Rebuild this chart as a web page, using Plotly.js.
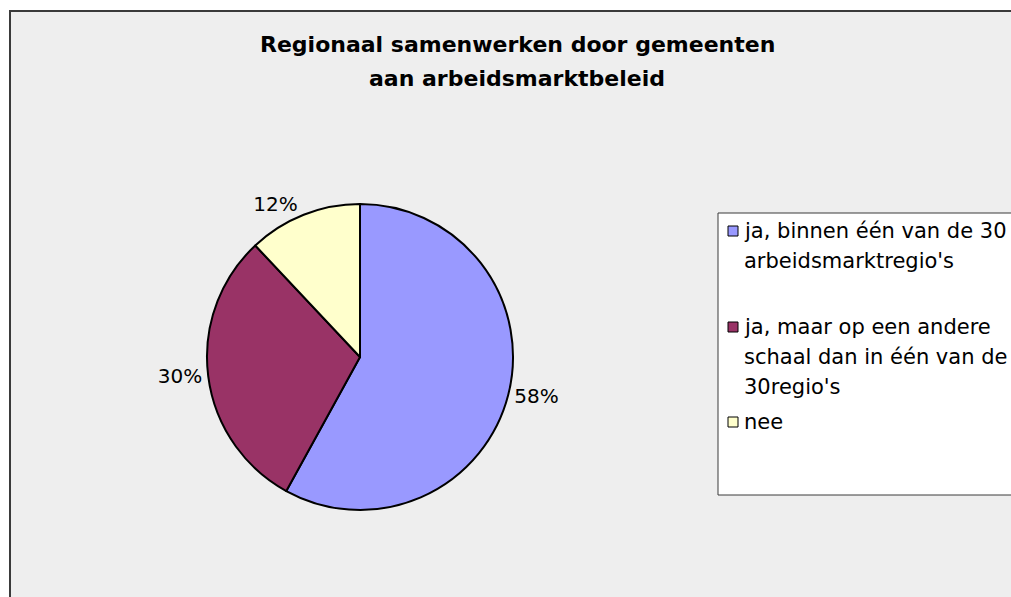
<!DOCTYPE html>
<html>
<head>
<meta charset="utf-8">
<script src="https://cdn.plot.ly/plotly-3.0.1.min.js"></script>
<style>html,body{margin:0;padding:0;background:#fff;}</style>
</head>
<body>
<div id="chart" style="width:1011px;height:597px;"></div>
<script>
// ---- data ----
const titleLines = ["Regionaal samenwerken door gemeenten", "aan arbeidsmarktbeleid"];
const labels = [
  "ja, binnen één van de 30 arbeidsmarktregio's",
  "ja, maar op een andere schaal dan in één van de 30regio's",
  "nee"
];
const legendLines = [
  ["ja, binnen één van de 30", "arbeidsmarktregio's"],
  ["ja, maar op een andere", "schaal dan in één van de", "30regio's"],
  ["nee"]
];
const values = [58, 30, 12];
const colors = ["#9999FF", "#993366", "#FFFFCC"];

// ---- layout helpers (pixel -> paper) ----
const W = 1011, H = 597;
const px = x => x / W;
const py = y => 1 - y / H;

const shapes = [
  // chart area background + border
  {type: "rect", xref: "paper", yref: "paper", x0: px(10), x1: 1.01, y0: -0.01, y1: py(11),
   fillcolor: "#EEEEEE", line: {color: "#3a3a3a", width: 2}, layer: "below"},
  // legend box
  {type: "rect", xref: "paper", yref: "paper", x0: px(718), x1: 1.01, y0: py(495), y1: py(213),
   fillcolor: "#FFFFFF", line: {color: "#3a3a3a", width: 1}, layer: "below"}
];

const annotations = [];
const titleY = [45, 79];
titleLines.forEach((t, i) => {
  annotations.push({text: t, xref: "paper", yref: "paper", x: px(517), y: py(titleY[i]),
    xanchor: "center", yanchor: "middle", showarrow: false,
    font: {family: "DejaVu Sans", size: 22, color: "#000", weight: "bold"}});
});

const entryStartY = [231, 327, 422];
const lineGap = 30;
legendLines.forEach((lines, i) => {
  const y0 = entryStartY[i];
  shapes.push({type: "rect", xref: "paper", yref: "paper",
    x0: px(728), x1: px(738), y0: py(y0 + 5), y1: py(y0 - 5),
    fillcolor: colors[i], line: {color: "#000", width: 1}});
  lines.forEach((ln, j) => {
    annotations.push({text: ln, xref: "paper", yref: "paper", x: px(742), y: py(y0 + j * lineGap),
      xanchor: "left", yanchor: "middle", showarrow: false,
      font: {family: "DejaVu Sans", size: 21, color: "#000"}});
  });
});

const trace = {
  type: "pie",
  labels: labels,
  values: values,
  sort: false,
  direction: "clockwise",
  rotation: 0,
  marker: {colors: colors, line: {color: "#000", width: 2}},
  textinfo: "percent",
  textposition: "outside",
  outsidetextfont: {family: "DejaVu Sans", size: 20, color: "#000"},
  domain: {x: [px(207), px(513)], y: [py(510), py(204)]},
  showlegend: false,
  hoverinfo: "label+percent"
};

const layout = {
  width: W, height: H,
  margin: {l: 0, r: 0, t: 0, b: 0},
  paper_bgcolor: "#FFFFFF",
  showlegend: false,
  shapes: shapes,
  annotations: annotations
};

Plotly.newPlot("chart", [trace], layout, {displayModeBar: false, staticPlot: true});
</script>
</body>
</html>
